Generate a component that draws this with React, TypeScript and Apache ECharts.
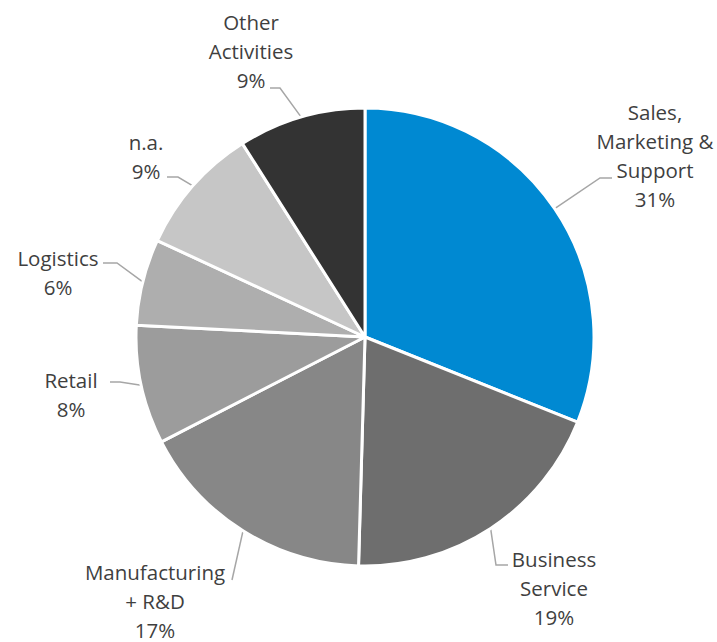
import React, { useEffect, useRef } from "react";
import * as echarts from "echarts";

// Data
const categories = [
  "Sales,\nMarketing &\nSupport",
  "Business\nService",
  "Manufacturing\n+ R&D",
  "Retail",
  "Logistics",
  "n.a.",
  "Other\nActivities",
];
const values = [31.1, 19.4, 17.0, 8.4, 6.1, 9.1, 9.0];
const colors = ["#0089D2", "#6E6E6E", "#878787", "#9C9C9C", "#AEAEAE", "#C6C6C6", "#333333"];

// Layout (label block centres and leader line bend/end points)
const CX = 365;
const CY = 337;
const R = 229;
const labelCenters: number[][] = [
  [655, 155],
  [554, 588],
  [155, 601],
  [71, 394],
  [58, 272],
  [146, 156],
  [251, 51],
];
const lineBends: number[][] = [
  [600, 178],
  [496, 565],
  [232, 580],
  [120, 382],
  [117, 263],
  [178, 177],
  [280, 88],
];
const lineEnds: number[][] = [
  [612, 178],
  [508, 565],
  [232, 580],
  [110, 382],
  [103, 263],
  [167, 177],
  [270, 88],
];

function edgePoint(idx: number): number[] {
  const total = values.reduce((a, b) => a + b, 0);
  let before = 0;
  for (let i = 0; i < idx; i++) before += values[i];
  const mid = ((before + values[idx] / 2) / total) * Math.PI * 2;
  const r = R - 1;
  return [CX + r * Math.sin(mid), CY - r * Math.cos(mid)];
}

export default function App() {
  const ref = useRef<HTMLDivElement>(null);
  useEffect(() => {
    if (!ref.current) return;
    const chart = echarts.init(ref.current, undefined, { renderer: "svg" });
    chart.setOption({
      animation: false,
      backgroundColor: "#ffffff",
      series: [
        {
          type: "pie",
          center: [CX, CY],
          radius: R,
          startAngle: 90,
          clockwise: true,
          avoidLabelOverlap: false,
          itemStyle: { borderColor: "#ffffff", borderWidth: 3 },
          data: categories.map((name, i) => ({
            name,
            value: values[i],
            itemStyle: { color: colors[i] },
          })),
          label: {
            show: true,
            position: "outside",
            formatter: (p: any) => `${p.name}\n${Math.round(p.percent)}%`,
            fontFamily: "Open Sans",
            fontSize: 20.5,
            lineHeight: 29,
            color: "#3F3F3F",
            align: "center",
          },
          labelLine: {
            show: true,
            lineStyle: { color: "#A6A6A6", width: 1.5 },
          },
          labelLayout: (params: any) => {
            const i = params.dataIndex;
            const start =
              params.labelLinePoints && params.labelLinePoints[0]
                ? params.labelLinePoints[0]
                : edgePoint(i);
            return {
              x: labelCenters[i][0],
              y: labelCenters[i][1],
              align: "center",
              verticalAlign: "middle",
              labelLinePoints: [start, lineBends[i], lineEnds[i]],
            };
          },
        },
      ],
    });
    return () => chart.dispose();
  }, []);
  return (
    <div
      ref={ref}
      style={{ position: "fixed", left: 0, top: 0, width: 717, height: 642, background: "#fff" }}
    />
  );
}
